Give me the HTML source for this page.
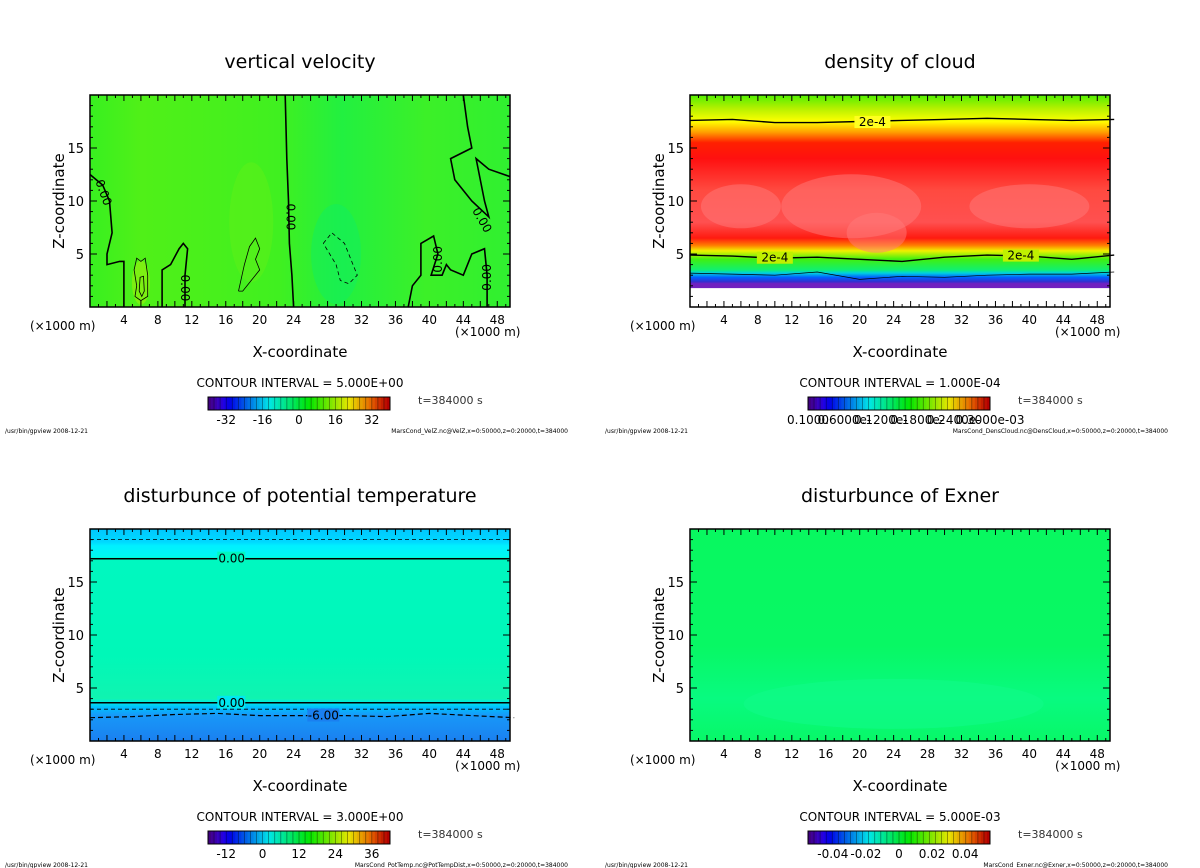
<!DOCTYPE html>
<html><head><meta charset="utf-8"><style>
html,body{margin:0;padding:0;background:#fff;}
svg{display:block;font-family:"DejaVu Sans","Liberation Sans",sans-serif;}
</style></head><body>
<svg id="fig" width="1200" height="868" viewBox="0 0 1200 868" xmlns="http://www.w3.org/2000/svg">
<defs>
 <linearGradient id="gVel" x1="0" y1="0" x2="1" y2="0">
  <stop offset="0" stop-color="#38f020"/><stop offset="0.12" stop-color="#50f018"/>
  <stop offset="0.3" stop-color="#48f01c"/><stop offset="0.45" stop-color="#40f020"/>
  <stop offset="0.6" stop-color="#22f040"/><stop offset="0.8" stop-color="#3cf028"/>
  <stop offset="1" stop-color="#30f030"/>
 </linearGradient>
 <linearGradient id="gCloud" x1="0" y1="0" x2="0" y2="1">
  <stop offset="0" stop-color="#50f000"/><stop offset="0.06" stop-color="#b0f000"/>
  <stop offset="0.125" stop-color="#ffff00"/><stop offset="0.175" stop-color="#ffa000"/>
  <stop offset="0.225" stop-color="#ff2000"/><stop offset="0.3" stop-color="#ff1010"/>
  <stop offset="0.45" stop-color="#ff4a40"/><stop offset="0.6" stop-color="#ff5050"/>
  <stop offset="0.675" stop-color="#ff1a10"/><stop offset="0.71" stop-color="#ff8000"/>
  <stop offset="0.735" stop-color="#f0f000"/><stop offset="0.775" stop-color="#40f010"/>
  <stop offset="0.825" stop-color="#10f070"/><stop offset="0.84" stop-color="#00d0e0"/>
  <stop offset="0.86" stop-color="#0060ff"/><stop offset="0.88" stop-color="#3030d0"/>
  <stop offset="0.89" stop-color="#7020c0"/><stop offset="0.91" stop-color="#7020c0"/>
  <stop offset="0.912" stop-color="#ffffff"/><stop offset="1" stop-color="#ffffff"/>
 </linearGradient>
 <linearGradient id="gTemp" x1="0" y1="0" x2="0" y2="1">
  <stop offset="0" stop-color="#00c8ff"/><stop offset="0.06" stop-color="#00d8ff"/>
  <stop offset="0.08" stop-color="#00f0ff"/><stop offset="0.13" stop-color="#00f8f0"/><stop offset="0.14" stop-color="#00f8c0"/>
  <stop offset="0.6" stop-color="#00f8b8"/><stop offset="0.8" stop-color="#10f4b0"/>
  <stop offset="0.82" stop-color="#00e8e8"/><stop offset="0.84" stop-color="#00c0ff"/>
  <stop offset="0.88" stop-color="#1898f8"/><stop offset="1" stop-color="#1a80f0"/>
 </linearGradient>
 <linearGradient id="gExn" x1="0" y1="0" x2="0" y2="1">
  <stop offset="0" stop-color="#08f860"/><stop offset="0.55" stop-color="#08f864"/>
  <stop offset="0.8" stop-color="#08fa80"/><stop offset="1" stop-color="#08f868"/>
 </linearGradient>
</defs>
<g id="root"></g>
</svg>
<script>
// ---- data ----
const xTicks = [4,8,12,16,20,24,28,32,36,40,44,48];
const zTicks = [5,10,15];
const cbVel = ["-32","-16","0","16","32"];
const cbVelPos = [-32,-16,0,16,32];
const cbTemp = ["-12","0","12","24","36"];
const cbTempPos = [-12,0,12,24,36];
const cbExn = ["-0.04","-0.02","0","0.02","0.04"];
const cbExnPos = [-0.04,-0.02,0,0.02,0.04];
// cloud 2e-4 contours (z in km) at x = 0,5,...,50
const cloudX = [0,5,10,15,20,25,30,35,40,45,50];
const cloudTop = [17.6,17.7,17.4,17.4,17.5,17.6,17.7,17.8,17.7,17.6,17.7];
const cloudLow = [4.9,4.8,4.6,4.7,4.5,4.3,4.7,4.9,4.8,4.5,4.9];
const cloudBase = [3.2,3.1,3.0,3.3,2.6,2.9,2.8,3.0,3.1,3.1,3.3];
// temperature disturbance contours
const tempSolid = [17.2, 3.6];
const tempDash = [19.0, 3.0];
const tempMinus6 = [2.2,2.3,2.5,2.6,2.4,2.4,2.4,2.3,2.6,2.4,2.2];
// vertical velocity zero contours [x,z]
const velLines = [
 [[0,12.5],[1.5,11.5],[2.3,10],[2.6,7],[2,5],[2,4],[3.5,4.3],[4,4.3],[4,0]],
 [[8.5,0],[8.5,3.5],[9.5,4],[10.5,5.5],[11,6],[11.5,5.5],[11.2,3],[11.2,0]],
 [[24,0],[23.8,3],[23.5,6],[23.4,10],[23.2,14],[23,20]],
 [[44,20],[44.5,17],[45,15],[42.5,14],[43,12],[45,10],[47,8.5],[46.5,10],[45.5,14],[47,13],[49.5,12.3]],
 [[37.5,0],[38,2],[39,3],[39,6],[40.5,6.7],[41,5],[40.2,3],[41.5,3],[42,4],[42.5,3.5],[44,3],[45,5],[46.5,5.5],[46.8,3],[46.8,0]]
];
const velThin = [
 [[5.5,2],[5.2,3.5],[5.5,4.6],[6,4.3],[6.5,4.6],[6.8,3],[6.8,1],[6,0.6],[5.3,1],[5.5,2]],
 [[17.5,1.5],[18.2,4],[18.8,5.7],[19.5,6.5],[20,5.5],[19.5,4.5],[20,3.5],[19,2.5],[18,1.5],[17.5,1.5]],
 [[5.8,1.5],[5.9,2.8],[6.3,2.9],[6.4,1.5],[6.1,1],[5.8,1.5]]
];
const velDash = [[27.5,6],[28.5,7],[30,6],[31,4],[31.5,3],[30.5,2.2],[29.5,2.5],[29,4],[27.5,6]];

// ---- helpers ----
const NS="http://www.w3.org/2000/svg";
const root=document.getElementById('root');
function el(tag,attrs,parent){const e=document.createElementNS(NS,tag);for(const k in attrs)e.setAttribute(k,attrs[k]);(parent||root).appendChild(e);return e;}
function txt(s,attrs,parent){const e=el('text',attrs,parent);e.textContent=s;return e;}
const FW=420, FH=212, XMAX=49.5, ZMAX=20;

function panel(ox,oy,opt){
 const g=el('g',{});
 
 
 const L=ox+90,T=oy+95;
 const sx=x=>L+x/XMAX*FW, sz=z=>T+FH-z/ZMAX*FH;
 const t=txt(opt.title,{x:ox+300,y:oy+68,'font-size':19,'text-anchor':'middle',fill:'#000'},g);
 
 const f=el('rect',{x:L,y:T,width:FW,height:FH,fill:opt.fill},g);
 
 opt.draw(g,sx,sz);
 const fr=el('rect',{x:L,y:T,width:FW,height:FH,fill:'none',stroke:'#000','stroke-width':1.5},g);
 
 for(let x=1;x<XMAX;x++){const len=x%2==0?6:3;
  el('line',{x1:sx(x),x2:sx(x),y1:T+FH,y2:T+FH-len,stroke:'#000'},g);
  el('line',{x1:sx(x),x2:sx(x),y1:T,y2:T+len,stroke:'#000'},g);}
 for(let z=1;z<ZMAX;z++){const len=z%5==0?7:3;
  el('line',{x1:L,x2:L+len,y1:sz(z),y2:sz(z),stroke:'#000'},g);
  el('line',{x1:L+FW,x2:L+FW-len,y1:sz(z),y2:sz(z),stroke:'#000'},g);}
 xTicks.forEach(v=>{const tl=txt(String(v),{x:sx(v),y:T+FH+17,'font-size':12,'text-anchor':'middle'},g);
  });
 zTicks.forEach(v=>{const tl=txt(String(v),{x:L-6,y:sz(v)+5,'font-size':13,'text-anchor':'end'},g);
  });
 let a=txt('(×1000 m)',{x:ox+30,y:oy+330,'font-size':12},g);
 a=txt('(×1000 m)',{x:ox+455,y:oy+336,'font-size':12},g);
 a=txt('X-coordinate',{x:ox+300,y:oy+357,'font-size':15,'text-anchor':'middle'},g);
 a=txt('Z-coordinate',{x:0,y:0,'font-size':15,'text-anchor':'middle',transform:`translate(${ox+64},${oy+201}) rotate(-90)`},g);
 a=txt('CONTOUR INTERVAL = '+opt.ci,{x:ox+300,y:oy+387,'font-size':12,'text-anchor':'middle'},g);
 const cb=el('g',{},g);
 const cx0=ox+208,cw=182,cy=oy+397,ch=13,N=60;
 for(let i=0;i<N;i++){const f2=i/(N-1);const h=270-f2*270;const l=f2>0.9?35+(1-f2)*100:(f2<0.08?25+f2*250:45);
  el('rect',{x:cx0+i*cw/N,y:cy,width:cw/N+0.3,height:ch,fill:`hsl(${h},100%,${l}%)`},cb);
  if(i%2==0)el('line',{x1:cx0+i*cw/N,x2:cx0+i*cw/N,y1:cy,y2:cy+ch,stroke:'rgba(0,0,0,0.5)','stroke-width':0.7},cb);}
 el('rect',{x:cx0,y:cy,width:cw,height:ch,fill:'none',stroke:'#000'},cb);
 const [labs,pos,lo,hi]=opt.cb;
 labs.forEach((s,i)=>{const lt=txt(s,{x:cx0+(pos[i]-lo)/(hi-lo)*cw,y:oy+424,'font-size':12,'text-anchor':'middle'},cb);
  });
 a=txt('t=384000 s',{x:ox+418,y:oy+404,'font-size':11,fill:'#333'},g);
 a=txt('/usr/bin/gpview  2008-12-21',{x:ox+5,y:oy+433,'font-size':6},g);
 a=txt(opt.src,{x:ox+568,y:oy+433,'font-size':6,'text-anchor':'end'},g);
}
function poly(g,pts,sx,sz,attrs){const d=pts.map((p,i)=>(i?'L':'M')+sx(p[0]).toFixed(1)+','+sz(p[1]).toFixed(1)).join('');
 return el('path',Object.assign({d:d,fill:'none',stroke:'#000'},attrs),g);}
function labelOn(g,s,x,y,rot){
 const t=txt(s,{x:x,y:y+4,'font-size':12,'text-anchor':'middle',transform:rot?`rotate(${rot},${x},${y})`:''},g);
 }

panel(0,0,{name:'vertical-velocity-panel',title:'vertical velocity',fill:'url(#gVel)',ci:'5.000E+00',
 cb:[cbVel,cbVelPos,-40,40],src:'MarsCond_VelZ.nc@VelZ,x=0:50000,z=0:20000,t=384000',
 draw:(g,sx,sz)=>{
  el('ellipse',{cx:sx(6),cy:sz(2.3),rx:9,ry:22,fill:'#90f010',opacity:0.7},g);
  el('ellipse',{cx:sx(19),cy:sz(8),rx:22,ry:60,fill:'#60f018',opacity:0.5},g);
  el('ellipse',{cx:sx(29),cy:sz(5),rx:25,ry:50,fill:'#10ee60',opacity:0.5},g);
  velLines.forEach(l=>{const p=poly(g,l,sx,sz,{'stroke-width':1.6});});
  velThin.forEach(l=>{const p=poly(g,l,sx,sz,{'stroke-width':0.8});});
  const p=poly(g,velDash,sx,sz,{'stroke-width':0.8,'stroke-dasharray':'4,3'});
  labelOn(g,'0.00',sx(1.6),sz(10.8),70);labelOn(g,'0.00',sx(23.6),sz(8.5),90);
  labelOn(g,'0.00',sx(11.2),sz(1.8),90);labelOn(g,'0.00',sx(41),sz(4.5),-90);
  labelOn(g,'0.00',sx(46.8),sz(2.8),-90);labelOn(g,'0.00',sx(46.2),sz(8.2),60);
 }});

panel(600,0,{name:'cloud-density-panel',title:'density of cloud',fill:'url(#gCloud)',ci:'1.000E-04',
 cb:[["0.1000","0.6000e-","0.1200e-","0.1800e-","0.2400e-","0.3000e-03"],[0,1,2,3,4,5],0,5],
 src:'MarsCond_DensCloud.nc@DensCloud,x=0:50000,z=0:20000,t=384000',
 draw:(g,sx,sz)=>{
  [[6,9.5,40,22],[19,9.5,70,32],[40,9.5,60,22],[22,7,30,20]].forEach(e=>el('ellipse',{cx:sx(e[0]),cy:sz(e[1]),rx:e[2],ry:e[3],fill:'#ff7a7a',opacity:0.5},g));
  const mk=arr=>cloudX.map((x,i)=>[x,arr[i]]);
  let p=poly(g,mk(cloudTop),sx,sz,{'stroke-width':1.4});
  p=poly(g,mk(cloudLow),sx,sz,{'stroke-width':1.4});
  p=poly(g,mk(cloudBase),sx,sz,{'stroke-width':0.7});
  [[sx(21.5),sz(17.45),'#ffff20'],[sx(10),sz(4.65),'#c0f000'],[sx(39),sz(4.85),'#c0f000']].forEach(q=>{el('rect',{x:q[0]-18,y:q[1]-6,width:36,height:12,fill:q[2]},g);});
  labelOn(g,'2e-4',sx(21.5),sz(17.45),0);labelOn(g,'2e-4',sx(10),sz(4.65),0);labelOn(g,'2e-4',sx(39),sz(4.85),0);
 }});

panel(0,434,{name:'potential-temperature-panel',title:'disturbunce of potential temperature',fill:'url(#gTemp)',ci:'3.000E+00',
 cb:[cbTemp,cbTempPos,-18,42],src:'MarsCond_PotTemp.nc@PotTempDist,x=0:50000,z=0:20000,t=384000',
 draw:(g,sx,sz)=>{
  tempSolid.forEach(z=>{const p=poly(g,[[0,z],[XMAX,z]],sx,sz,{'stroke-width':1.5});
   el('rect',{x:sx(15),y:sz(z)-7,width:28,height:13,fill:z>10?'#00f8c0':'#00e8f0'},g);labelOn(g,'0.00',sx(16.7),sz(z),0);});
  tempDash.forEach(z=>{const p=poly(g,[[0,z],[XMAX,z]],sx,sz,{'stroke-width':0.8,'stroke-dasharray':'4,3'});});
  const p=poly(g,cloudX.map((x,i)=>[x,tempMinus6[i]]),sx,sz,{'stroke-width':1.2,'stroke-dasharray':'5,3'});
  el('rect',{x:sx(27.5)-16,y:sz(2.4)-7,width:32,height:13,fill:'#1a80f0'},g);labelOn(g,'-6.00',sx(27.5),sz(2.4),0);
 }});

panel(600,434,{name:'exner-panel',title:'disturbunce of Exner',fill:'url(#gExn)',ci:'5.000E-03',
 cb:[cbExn,cbExnPos,-0.055,0.055],src:'MarsCond_Exner.nc@Exner,x=0:50000,z=0:20000,t=384000',
 draw:(g,sx,sz)=>{el('ellipse',{cx:sx(24),cy:sz(3.5),rx:150,ry:25,fill:'#10fa88',opacity:0.6},g);}});
</script>
</body></html>
